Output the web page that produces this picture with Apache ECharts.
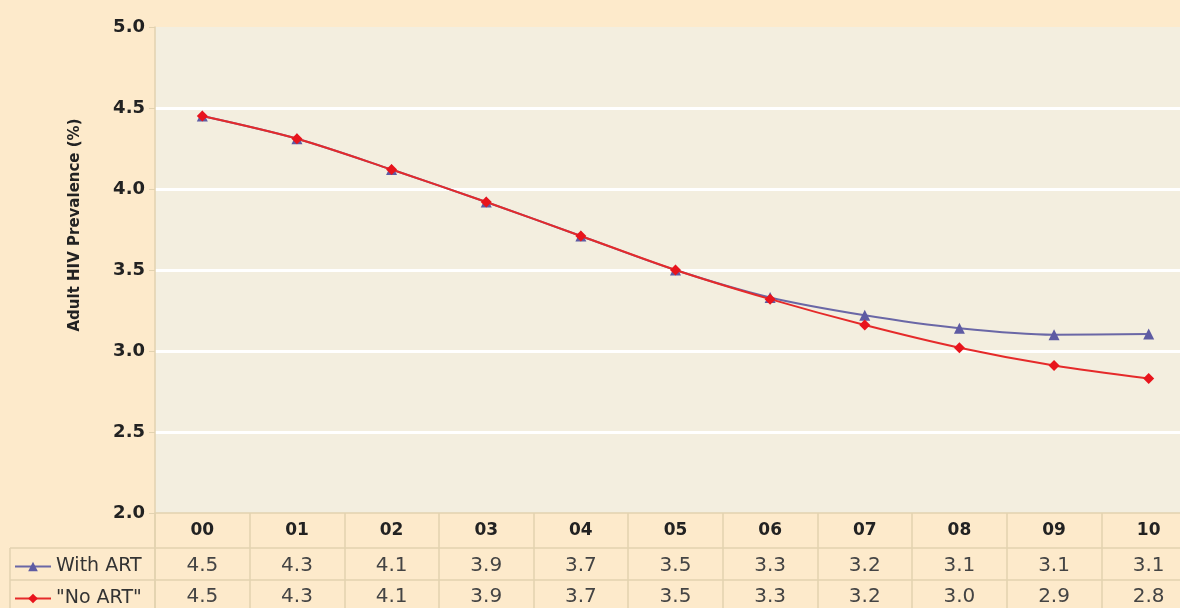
<!DOCTYPE html>
<html>
<head>
<meta charset="utf-8">
<script src="https://cdn.jsdelivr.net/npm/echarts@6/dist/echarts.min.js"></script>
<style>
  html, body { margin: 0; padding: 0; background: #fdeacb; }
  #chart { width: 1180px; height: 608px; }
</style>
</head>
<body>
<div id="chart"></div>
<script>
var years = ["00", "01", "02", "03", "04", "05", "06", "07", "08", "09", "10"];
var withArt = [4.45, 4.31, 4.12, 3.92, 3.71, 3.50, 3.33, 3.22, 3.14, 3.10, 3.105];
var noArt = [4.45, 4.31, 4.12, 3.92, 3.71, 3.50, 3.32, 3.16, 3.02, 2.91, 2.83];
// rounded values printed in the table under the chart
var withArtTable = ["4.5", "4.3", "4.1", "3.9", "3.7", "3.5", "3.3", "3.2", "3.1", "3.1", "3.1"];
var noArtTable = ["4.5", "4.3", "4.1", "3.9", "3.7", "3.5", "3.3", "3.2", "3.0", "2.9", "2.8"];

var tan = "#e2d2b0";
var font = "DejaVu Sans, sans-serif";

var chart = echarts.init(document.getElementById("chart"));
var option = {
  backgroundColor: "#fdeacb",
  textStyle: { fontFamily: font },
  grid: {
    left: 155,
    width: 1041,
    top: 27,
    bottom: 95,
    outerBoundsMode: "none",
    show: true,
    backgroundColor: "#f3eedf",
    borderWidth: 0
  },
  legend: [
    {
      left: 14,
      top: 557,
      padding: 0,
      itemWidth: 36,
      itemHeight: 12,
      textStyle: { fontSize: 19, color: "#333", fontFamily: font },
      data: ["With ART"]
    },
    {
      left: 14,
      top: 589,
      padding: 0,
      itemWidth: 36,
      itemHeight: 12,
      textStyle: { fontSize: 19, color: "#333", fontFamily: font },
      data: ["\"No ART\""]
    }
  ],
  xAxis: [
    {
      type: "category",
      data: years,
      boundaryGap: true,
      axisLine: { show: true, lineStyle: { color: tan, width: 1.5 } },
      axisTick: { show: true, interval: 0, length: 95, lineStyle: { color: tan, width: 1.5 } },
      axisLabel: { fontSize: 17, fontWeight: "bold", color: "#222", margin: 9 }
    },
    {
      type: "category",
      data: withArtTable,
      position: "bottom",
      offset: 35,
      axisLine: { show: true, lineStyle: { color: tan, width: 1.5 } },
      axisTick: { show: false },
      axisLabel: { fontSize: 20, color: "#444", margin: 8, interval: 0 }
    },
    {
      type: "category",
      data: noArtTable,
      position: "bottom",
      offset: 67,
      axisLine: { show: true, lineStyle: { color: tan, width: 1.5 } },
      axisTick: { show: false },
      axisLabel: { fontSize: 20, color: "#444", margin: 7, interval: 0 }
    }
  ],
  yAxis: {
    type: "value",
    min: 2,
    max: 5,
    interval: 0.5,
    name: "Adult HIV Prevalence (%)",
    nameLocation: "middle",
    nameGap: 72,
    nameTextStyle: { fontSize: 15, fontWeight: "bold", color: "#222", fontFamily: font, padding: [0, 0, 0, 90] },
    axisLine: { show: true, lineStyle: { color: tan, width: 1.5 } },
    axisTick: { show: true, length: 6, lineStyle: { color: tan } },
    axisLabel: {
      fontSize: 18,
      fontWeight: "bold",
      color: "#222",
      margin: 10,
      formatter: function (v) { return v.toFixed(1); }
    },
    splitLine: {
      show: true,
      lineStyle: {
        width: 3,
        color: ["rgba(0,0,0,0)", "#ffffff", "#ffffff", "#ffffff", "#ffffff", "#ffffff", "rgba(0,0,0,0)"]
      }
    }
  },
  series: [
    {
      name: "With ART",
      type: "line",
      data: withArt,
      smooth: 0.3,
      symbol: "triangle",
      symbolSize: 11,
      lineStyle: { color: "#6a67a6", width: 2 },
      itemStyle: { color: "#5e5ba3" }
    },
    {
      name: "\"No ART\"",
      type: "line",
      data: noArt,
      smooth: 0.3,
      symbol: "diamond",
      symbolSize: 11,
      lineStyle: { color: "#e52a2a", width: 2 },
      itemStyle: { color: "#e8141c" }
    }
  ],
  graphic: [
    // table rules on the left of the plot
    { type: "line", shape: { x1: 10, y1: 548, x2: 155, y2: 548 }, style: { stroke: tan, lineWidth: 1.5 } },
    { type: "line", shape: { x1: 10, y1: 580, x2: 155, y2: 580 }, style: { stroke: tan, lineWidth: 1.5 } },
    { type: "line", shape: { x1: 10, y1: 548, x2: 10, y2: 608 }, style: { stroke: tan, lineWidth: 1.5 } },
    { type: "line", shape: { x1: 155, y1: 513, x2: 155, y2: 608 }, style: { stroke: tan, lineWidth: 1.5 } }
  ]
};
chart.setOption(option);
</script>
</body>
</html>
